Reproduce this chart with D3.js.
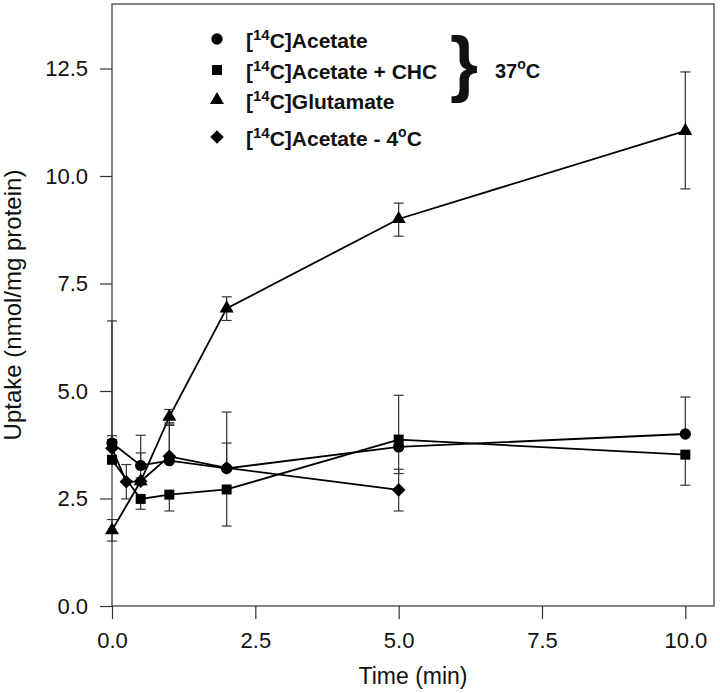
<!DOCTYPE html>
<html>
<head>
<meta charset="utf-8">
<script src="https://cdn.jsdelivr.net/npm/d3@7"></script>
<style>
  body { margin: 0; background: #fff; }
  svg { display: block; }
  text { font-family: "Liberation Sans", Arial, sans-serif; fill: #111; }
</style>
</head>
<body>
<div id="chart"></div>
<script>
// time points (min)
var timeMain = [0, 0.5, 1, 2, 5, 10];
var timeCold = [0, 0.25, 0.5, 1, 2, 5];

// uptake (nmol/mg protein) and error bar lengths (up / down)
var acetate = [3.79, 3.27, 3.38, 3.20, 3.70, 4.00];
var acetateUp = [2.84, 0.70, 0.88, 1.31, 0, 0.86];
var acetateDown = [0, 0, 0, 0, 0.62, 0];

var acetateChc = [3.40, 2.49, 2.59, 2.71, 3.87, 3.52];
var acetateChcUp = [0.47, 0, 0, 0, 1.03, 0];
var acetateChcDown = [0, 0.24, 0.38, 0.85, 0, 0.71];

var glutamate = [1.76, 2.90, 4.40, 6.92, 9.00, 11.05];
var glutamateUp = [0.25, 0.08, 0.17, 0.27, 0.37, 1.37];
var glutamateDown = [0.25, 0.08, 0.17, 0.28, 0.40, 1.35];

var acetateCold = [3.67, 2.89, 2.90, 3.48, 3.21, 2.70];
var acetateColdUp = [0.29, 0.40, 0.66, 0.72, 0.58, 0.48];
var acetateColdDown = [0, 0.40, 0, 0, 0, 0.49];

var xTicks = [0, 2.5, 5, 7.5, 10];
var yTicks = [0, 2.5, 5, 7.5, 10, 12.5];

var legendLabels = ['Acetate', 'Acetate + CHC', 'Glutamate', 'Acetate - 4'];

var W = 720, H = 693,
    margin = {top: 4, right: 6, bottom: 87, left: 112},
    width = W - margin.left - margin.right,
    height = H - margin.top - margin.bottom;

var x = d3.scaleLinear().domain([0, 10.5]).range([0, width]);
var y = d3.scaleLinear().domain([0, 14]).range([height, 0]);

function makeSeries(times, vals, up, down, shape) {
  return {
    shape: shape,
    points: times.map(function(t, i) {
      return {t: t, v: vals[i], hi: vals[i] + up[i], lo: vals[i] - down[i]};
    })
  };
}

var series = [
  makeSeries(timeMain, acetate, acetateUp, acetateDown, 'circle'),
  makeSeries(timeMain, acetateChc, acetateChcUp, acetateChcDown, 'square'),
  makeSeries(timeMain, glutamate, glutamateUp, glutamateDown, 'triangle'),
  makeSeries(timeCold, acetateCold, acetateColdUp, acetateColdDown, 'diamond')
];

var symbols = {
  circle: d3.symbol().type(d3.symbolCircle).size(100),
  square: d3.symbol().type(d3.symbolSquare).size(100),
  triangle: d3.symbol().type(d3.symbolTriangle).size(85),
  diamond: d3.symbol().type(d3.symbolSquare).size(92)
};

var svg = d3.select('#chart').append('svg')
  .attr('width', W)
  .attr('height', H);

var g = svg.append('g')
  .attr('transform', 'translate(' + margin.left + ',' + margin.top + ')');

// frame
g.append('rect')
  .attr('width', width)
  .attr('height', height)
  .attr('fill', 'none')
  .attr('stroke', '#333')
  .attr('stroke-width', 1.2);

var xAxis = g.append('g')
  .attr('transform', 'translate(0,' + height + ')')
  .call(d3.axisBottom(x).tickValues(xTicks).tickFormat(d3.format('.1f'))
    .tickSize(13).tickPadding(13));

var yAxis = g.append('g')
  .call(d3.axisLeft(y).tickValues(yTicks).tickFormat(d3.format('.1f'))
    .tickSize(12).tickPadding(12));

[xAxis, yAxis].forEach(function(ax) {
  ax.select('.domain').remove();
  ax.selectAll('line').attr('stroke', '#333').attr('stroke-width', 1.2);
  ax.selectAll('text')
    .attr('fill', '#111')
    .style('font-size', '22px')
    .style('font-family', '"Liberation Sans", Arial, sans-serif');
});

// axis titles
svg.append('text')
  .attr('x', margin.left + width / 2)
  .attr('y', 684)
  .attr('text-anchor', 'middle')
  .style('font-size', '23px')
  .text('Time (min)');

svg.append('text')
  .attr('transform', 'translate(21,' + (margin.top + height / 2) + ') rotate(-90)')
  .attr('text-anchor', 'middle')
  .style('font-size', '24px')
  .text('Uptake (nmol/mg protein)');

var line = d3.line()
  .x(function(d) { return x(d.t); })
  .y(function(d) { return y(d.v); });

// lines
g.selectAll('.series-line')
  .data(series)
  .enter()
  .append('path')
  .attr('class', 'series-line')
  .attr('d', function(d) { return line(d.points); })
  .attr('fill', 'none')
  .attr('stroke', '#000')
  .attr('stroke-width', 1.8);

// error bars
var bars = g.selectAll('.err')
  .data(series)
  .enter()
  .append('g')
  .attr('class', 'err')
  .selectAll('g')
  .data(function(d) { return d.points.filter(function(p) { return p.hi > p.v || p.lo < p.v; }); })
  .enter()
  .append('g')
  .attr('stroke', '#333')
  .attr('stroke-width', 1.2);

bars.append('line')
  .attr('x1', function(d) { return x(d.t); })
  .attr('x2', function(d) { return x(d.t); })
  .attr('y1', function(d) { return y(d.hi); })
  .attr('y2', function(d) { return y(d.lo); });

bars.filter(function(d) { return d.hi > d.v; })
  .append('line')
  .attr('x1', function(d) { return x(d.t) - 5; })
  .attr('x2', function(d) { return x(d.t) + 5; })
  .attr('y1', function(d) { return y(d.hi); })
  .attr('y2', function(d) { return y(d.hi); });

bars.filter(function(d) { return d.lo < d.v; })
  .append('line')
  .attr('x1', function(d) { return x(d.t) - 5; })
  .attr('x2', function(d) { return x(d.t) + 5; })
  .attr('y1', function(d) { return y(d.lo); })
  .attr('y2', function(d) { return y(d.lo); });

// markers
series.forEach(function(s) {
  g.append('g')
    .selectAll('path')
    .data(s.points)
    .enter()
    .append('path')
    .attr('d', symbols[s.shape])
    .attr('transform', function(d) {
      return 'translate(' + x(d.t) + ',' + y(d.v) + ')' + (s.shape === 'diamond' ? ' rotate(45)' : '');
    })
    .attr('fill', '#000');
});

// legend
var legendRows = [39, 70, 100, 137];
var legend = svg.append('g').attr('class', 'legend');

legendLabels.forEach(function(label, i) {
  var shape = series[i].shape;
  legend.append('path')
    .attr('d', symbols[shape])
    .attr('transform', 'translate(217,' + legendRows[i] + ')' + (shape === 'diamond' ? ' rotate(45)' : ''))
    .attr('fill', '#000');

  var t = legend.append('text')
    .attr('x', 246)
    .attr('y', legendRows[i] + 9)
    .style('font-size', '21px')
    .style('font-weight', 'bold');
  t.append('tspan').text('[');
  t.append('tspan').attr('dy', -8).style('font-size', '15px').text('14');
  t.append('tspan').attr('dy', 8).text('C]' + label);
  if (i === 3) {
    t.append('tspan').attr('dy', -9).style('font-size', '14px').text('o');
    t.append('tspan').attr('dy', 9).text('C');
  }
});

// brace for the 37 C group
legend.append('text')
  .attr('x', 450)
  .attr('y', 88)
  .style('font-size', '72px')
  .style('font-weight', 'bold')
  .text('}');

var t37 = legend.append('text')
  .attr('x', 495)
  .attr('y', 78)
  .style('font-size', '20px')
  .style('font-weight', 'bold');
t37.append('tspan').text('37');
t37.append('tspan').attr('dy', -9).style('font-size', '14px').text('o');
t37.append('tspan').attr('dy', 9).text('C');
</script>
</body>
</html>
